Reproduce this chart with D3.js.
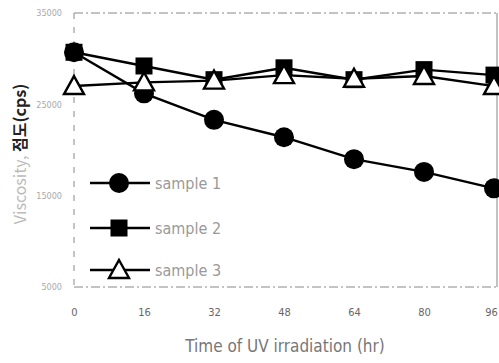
<!DOCTYPE html>
<html>
<head>
<meta charset="utf-8">
<script src="https://cdn.jsdelivr.net/npm/d3@7"></script>
<style>
  body { margin: 0; background: #fff; }
  svg { display: block; }
</style>
</head>
<body>
<svg id="chart" width="499" height="363"></svg>
<script>
// data
const hours = [0, 16, 32, 48, 64, 80, 96];
const sample1 = [30700, 26200, 23300, 21400, 19000, 17600, 15800];
const sample2 = [30700, 29200, 27700, 29000, 27700, 28800, 28200];
const sample3 = [27000, 27400, 27600, 28200, 27800, 28100, 27000];
const seriesNames = ['sample 1', 'sample 2', 'sample 3'];
const yTicks = [5000, 15000, 25000, 35000];

const svg = d3.select('#chart');
const margin = { left: 74, right: 5, top: 13, bottom: 76 };
const width = 499, height = 363;

const x = d3.scaleLinear().domain([0, 96]).range([margin.left, 494]);
const y = d3.scaleLinear().domain([5000, 35000]).range([height - margin.bottom, margin.top]);

// frame (dashed like the scan)
svg.append('line').attr('x1', margin.left).attr('x2', 497).attr('y1', y(35000)).attr('y2', y(35000))
  .attr('stroke', '#888').attr('stroke-dasharray', '9,3,2,3');
svg.append('line').attr('x1', margin.left).attr('x2', 497).attr('y1', y(5000)).attr('y2', y(5000))
  .attr('stroke', '#888').attr('stroke-dasharray', '9,3,2,3');
svg.append('line').attr('x1', margin.left).attr('x2', margin.left).attr('y1', y(35000)).attr('y2', y(5000))
  .attr('stroke', '#888').attr('stroke-dasharray', '6,8');
svg.append('line').attr('x1', 497).attr('x2', 497).attr('y1', y(35000)).attr('y2', y(5000))
  .attr('stroke', '#999').attr('stroke-width', 1.2);

// axes
const xAxis = svg.append('g').attr('transform', `translate(0,${y(5000)})`)
  .call(d3.axisBottom(x).tickValues(hours).tickSize(0).tickPadding(21));
xAxis.select('.domain').remove();
xAxis.selectAll('text').attr('fill', '#666').style('font-size', '11px')
  .style('font-family', '"DejaVu Sans Condensed", "DejaVu Sans", sans-serif');
// last label sits at the right edge, keep it inside
xAxis.selectAll('.tick').filter(d => d === 96).select('text').attr('dx', -3);

const yAxis = svg.append('g').attr('transform', `translate(${margin.left},0)`)
  .call(d3.axisLeft(y).tickValues(yTicks).tickFormat(d3.format('d')).tickSize(0).tickPadding(12));
yAxis.select('.domain').remove();
yAxis.selectAll('text').attr('fill', '#aaa').style('font-size', '9px')
  .style('font-family', '"DejaVu Sans Condensed", "DejaVu Sans", sans-serif');

// axis titles
svg.append('text').attr('x', 285).attr('y', 352).attr('text-anchor', 'middle')
  .attr('fill', '#777').style('font-size', '17px')
  .style('font-family', '"DejaVu Sans Condensed", "DejaVu Sans", sans-serif')
  .style('font-weight', 300)
  .text('Time of UV irradiation (hr)');

svg.append('text').attr('transform', 'translate(26,154) rotate(-90)').attr('text-anchor', 'middle')
  .style('font-family', '"Noto Sans CJK KR", "DejaVu Sans Condensed", sans-serif')
  .style('font-size', '16px')
  .call(t => {
    t.append('tspan').attr('fill', '#bbb').text('Viscosity, ');
    t.append('tspan').attr('fill', '#222').style('font-weight', 'bold').text('점도(cps)');
  });

// series
const line = d3.line().x((d, i) => x(hours[i])).y(d => y(d));
const allSeries = [sample1, sample2, sample3];

allSeries.forEach(vals => {
  svg.append('path').datum(vals).attr('d', line)
    .attr('fill', 'none').attr('stroke', '#000').attr('stroke-width', 2.4);
});

function marker(g, type) {
  if (type === 0) {
    g.append('circle').attr('r', 10).attr('fill', '#000');
  } else if (type === 1) {
    g.append('rect').attr('x', -8.5).attr('y', -8.5).attr('width', 17).attr('height', 17).attr('fill', '#000');
  } else {
    g.append('path').attr('d', 'M0,-10L10,8L-10,8Z').attr('fill', '#fff')
      .attr('stroke', '#000').attr('stroke-width', 2.4);
  }
}

allSeries.forEach((vals, s) => {
  vals.forEach((v, i) => {
    const g = svg.append('g').attr('transform', `translate(${x(hours[i])},${y(v)})`);
    marker(g, s);
  });
});

// legend
const legendY = [183, 228, 270];
seriesNames.forEach((name, s) => {
  const g = svg.append('g').attr('transform', `translate(0,${legendY[s]})`);
  g.append('line').attr('x1', 90).attr('x2', 150).attr('stroke', '#000').attr('stroke-width', 2.4);
  const m = g.append('g').attr('transform', 'translate(119,0)');
  marker(m, s);
  g.append('text').attr('x', 155).attr('y', 6).attr('fill', '#999')
    .style('font-size', '16px')
    .style('font-family', '"DejaVu Sans Condensed", "DejaVu Sans", sans-serif')
    .text(name);
});
</script>
</body>
</html>
